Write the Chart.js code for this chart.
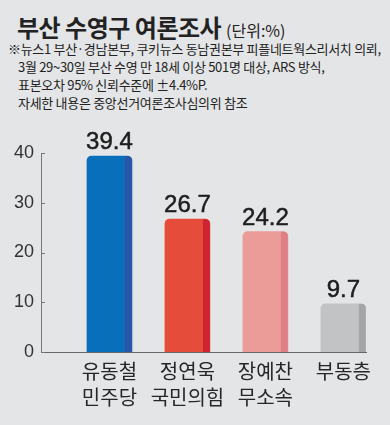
<!DOCTYPE html>
<html>
<head>
<meta charset="utf-8">
<script src="https://cdn.jsdelivr.net/npm/chart.js@4"></script>
<style>
  html, body { margin: 0; padding: 0; }
  body { width: 390px; height: 425px; background: #e4e5e7; position: relative; overflow: hidden;
         font-family: "Noto Sans CJK KR", "Noto Sans", sans-serif; color: #222; }
  #title { position: absolute; left: 17px; top: 9px; font-size: 24px; font-weight: bold; letter-spacing: -0.5px; white-space: nowrap; }
  #title span { font-size: 16px; font-weight: normal; letter-spacing: 0; }
  .note { position: absolute; left: 8px; font-size: 13px; white-space: nowrap; color: #222; letter-spacing: -0.3px; }
  #chartWrap { position: absolute; left: 0; top: 0; width: 390px; height: 425px; }
</style>
</head>
<body>
<div id="title">부산 수영구 여론조사 <span>(단위:%)</span></div>
<div class="note" style="top:39px">※뉴스1 부산·경남본부, 쿠키뉴스 동남권본부 피플네트웍스리서치 의뢰,</div>
<div class="note" style="top:57px; left:18px">3월 29~30일 부산 수영 만 18세 이상 501명 대상, ARS 방식,</div>
<div class="note" style="top:75px; left:18px">표본오차 95% 신뢰수준에 ±4.4%P.</div>
<div class="note" style="top:93px; left:18px">자세한 내용은 중앙선거여론조사심의위 참조</div>
<div id="chartWrap"><canvas id="pollChart" width="390" height="425"></canvas></div>
<script>
// poll data
const categories = [['유동철', '민주당'], ['정연욱', '국민의힘'], ['장예찬', '무소속'], ['부동층']];
const values = [39.4, 26.7, 24.2, 9.7];
const yTicks = [0, 10, 20, 30, 40];

// bar face colours and the darker right edge strip
const faceColors = ['#0870bb', '#e54d3a', '#eb9b98', '#c2c3c5'];
const edgeColors = ['#2b56a5', '#cd2431', '#de7f87', '#a4a5a7'];

// darker stripe on the right side of each bar
const edgePlugin = {
    id: 'edgeStrip',
    afterDatasetsDraw(chart) {
        const ctx = chart.ctx;
        const meta = chart.getDatasetMeta(0);
        meta.data.forEach((bar, i) => {
            const left = bar.x - bar.width / 2;
            const right = bar.x + bar.width / 2;
            const r = 5;
            ctx.save();
            ctx.beginPath();
            ctx.moveTo(left, bar.base);
            ctx.lineTo(left, bar.y + r);
            ctx.quadraticCurveTo(left, bar.y, left + r, bar.y);
            ctx.lineTo(right - r, bar.y);
            ctx.quadraticCurveTo(right, bar.y, right, bar.y + r);
            ctx.lineTo(right, bar.base);
            ctx.closePath();
            ctx.clip();
            ctx.fillStyle = edgeColors[i];
            ctx.fillRect(right - 7, bar.y, 7, bar.base - bar.y);
            ctx.restore();
        });
    }
};

// value labels above bars + small inner ticks on y axis
const labelPlugin = {
    id: 'valueLabels',
    afterDraw(chart) {
        const ctx = chart.ctx;
        const meta = chart.getDatasetMeta(0);
        ctx.save();
        ctx.fillStyle = '#1e1e1e';
        ctx.strokeStyle = '#1e1e1e';
        ctx.lineWidth = 0.5;
        ctx.font = '24px "Liberation Sans Narrow", "Liberation Sans", sans-serif';
        ctx.textAlign = 'center';
        ctx.textBaseline = 'alphabetic';
        meta.data.forEach((bar, i) => {
            const txt = values[i].toFixed(1);
            ctx.fillText(txt, bar.x, bar.y - 7);
            ctx.strokeText(txt, bar.x, bar.y - 7);
        });
        const yScale = chart.scales.y;
        const x0 = chart.chartArea.left;
        ctx.strokeStyle = '#777';
        ctx.lineWidth = 1;
        yTicks.forEach(t => {
            const y = Math.round(yScale.getPixelForValue(t)) + 0.5;
            ctx.beginPath();
            ctx.moveTo(x0, y);
            ctx.lineTo(x0 + 4, y);
            ctx.stroke();
        });
        ctx.restore();
    }
};

document.addEventListener('DOMContentLoaded', function() {
    const ctx = document.getElementById('pollChart').getContext('2d');

    new Chart(ctx, {
        type: 'bar',
        data: {
            datasets: [{
                data: values.map((v, i) => ({ x: i, y: v })),
                backgroundColor: faceColors,
                borderWidth: 0,
                borderRadius: { topLeft: 5, topRight: 5, bottomLeft: 0, bottomRight: 0 },
                borderSkipped: false,
                barThickness: 45
            }]
        },
        options: {
            responsive: false,
            animation: false,
            layout: { padding: { top: 153, right: 24, bottom: 0, left: 0 } },
            plugins: {
                legend: { display: false },
                tooltip: { enabled: false }
            },
            scales: {
                x: {
                    type: 'linear',
                    offset: false,
                    min: -0.878,
                    max: 3.29,
                    grid: { display: false, drawTicks: false },
                    border: { display: true, color: '#666', width: 1 },
                    afterBuildTicks: axis => { axis.ticks = categories.map((c, i) => ({ value: i })); },
                    afterFit: axis => { axis.height = 73; axis.paddingLeft = 0; axis.paddingRight = 0; },
                    ticks: {
                        autoSkip: false,
                        maxRotation: 0,
                        padding: 6,
                        color: '#262626',
                        font: { family: '"Noto Sans CJK KR"', size: 20, lineHeight: 1.3 },
                        callback: value => categories[value]
                    }
                },
                y: {
                    min: 0,
                    max: 40,
                    grid: { display: false, drawTicks: false },
                    border: { display: true, color: '#777', width: 1 },
                    afterBuildTicks: axis => { axis.ticks = yTicks.map(v => ({ value: v })); },
                    afterFit: axis => { axis.width = 41; },
                    ticks: {
                        padding: 7,
                        color: '#333',
                        font: { family: '"Liberation Sans Narrow", "Liberation Sans", sans-serif', size: 18 }
                    }
                }
            }
        },
        plugins: [edgePlugin, labelPlugin]
    });
});
</script>
</body>
</html>
